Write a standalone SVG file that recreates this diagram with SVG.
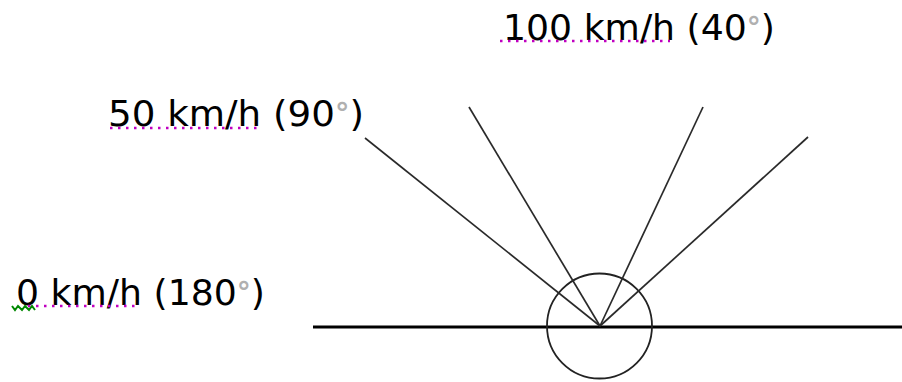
<svg xmlns="http://www.w3.org/2000/svg" width="902" height="382" viewBox="0 0 902 382">
<style>
.lbl{font-family:"DejaVu Sans","Liberation Sans",sans-serif;font-size:36px;fill:#000}
.deg{fill:#b0b0b0;font-weight:bold;font-size:28px}
.ray{stroke:#2a2a2a;stroke-width:1.7;fill:none}
.spell{stroke:#c000c0;stroke-width:2.5;stroke-dasharray:2.5 5.5;fill:none}
</style>
<rect width="902" height="382" fill="#fff"/>
<g id="ground"><line x1="313" y1="327" x2="902" y2="327" stroke="#000" stroke-width="3"/></g>
<g id="circle"><circle cx="599.5" cy="326" r="52.5" fill="none" stroke="#222" stroke-width="1.8"/></g>
<g id="connectors">
<line class="ray" x1="600" y1="326" x2="365" y2="138"/>
<line class="ray" x1="600" y1="326" x2="469" y2="107"/>
<line class="ray" x1="600" y1="326" x2="703" y2="107"/>
<line class="ray" x1="600" y1="326" x2="808" y2="137"/>
</g>
<g id="label-100">
<text class="lbl" x="503" y="40" textLength="272" lengthAdjust="spacingAndGlyphs">100 km/h (40<tspan class="deg" dy="-3">°</tspan><tspan dy="3">)</tspan></text>
<line class="spell" x1="500" y1="41" x2="670" y2="41"/>
</g>
<g id="label-50">
<text class="lbl" x="108" y="126" textLength="256" lengthAdjust="spacingAndGlyphs">50 km/h (90<tspan class="deg" dy="-3">°</tspan><tspan dy="3">)</tspan></text>
<line class="spell" x1="110" y1="128" x2="260" y2="128"/>
</g>
<g id="label-0">
<text class="lbl" x="16" y="305" textLength="249" lengthAdjust="spacingAndGlyphs">0 km/h (180<tspan class="deg" dy="-3">°</tspan><tspan dy="3">)</tspan></text>
<line class="spell" x1="28" y1="306" x2="140" y2="306"/>
<polyline points="12,306 15,310 18,306 22,310 25,306 29,310 32,306 35,310" fill="none" stroke="#080" stroke-width="2"/>
</g>
</svg>
